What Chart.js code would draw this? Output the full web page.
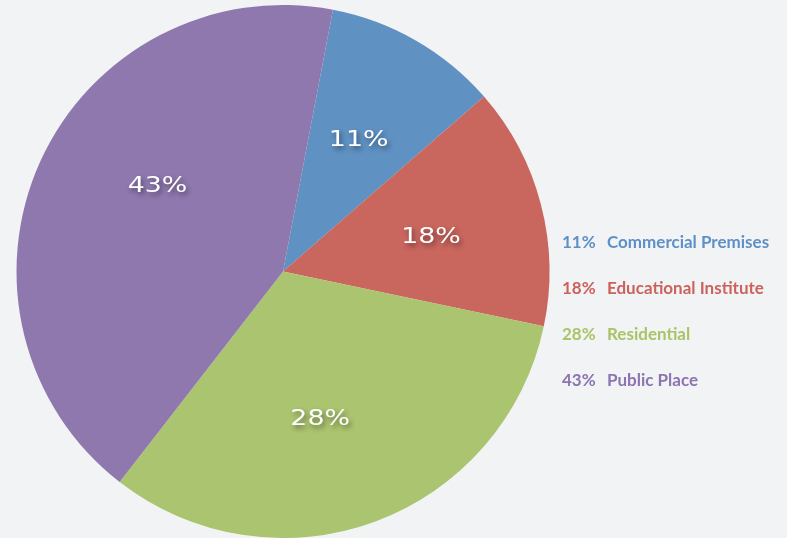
<!DOCTYPE html>
<html>
<head>
<meta charset="utf-8">
<script src="https://cdn.jsdelivr.net/npm/chart.js@4"></script>
<style>
  html, body { margin: 0; padding: 0; background: #F2F3F5; }
  #wrap { width: 787px; height: 538px; position: relative; }
</style>
</head>
<body>
<div id="wrap"><canvas id="c" width="787" height="538"></canvas></div>
<script>
// Categories
const categories = ["Commercial Premises", "Educational Institute", "Residential", "Public Place"];
// Slice sizes as drawn in the picture (percent of circle)
const sliceValues = [10.6, 14.7, 32.2, 42.5];
// Percent labels printed on the chart
const percentLabels = ["11%", "18%", "28%", "43%"];
const colors = ["#5F91C2", "#C9665E", "#ABC46F", "#8E78AE"];
const textColors = ["#5E90C8", "#CB625C", "#A8C467", "#8C74B0"];

const sliceLabelPlugin = {
  id: 'sliceLabels',
  afterDatasetsDraw(chart, args, opts) {
    const ctx = chart.ctx;
    const meta = chart.getDatasetMeta(0);
    meta.data.forEach((arc, i) => {
      const p = arc.getProps(['x', 'y', 'startAngle', 'endAngle', 'outerRadius'], true);
      const mid = (p.startAngle + p.endAngle) / 2 + (opts.angleShift[i] || 0) * Math.PI / 180;
      const r = p.outerRadius * opts.radiusFactor;
      const tx = p.x + Math.cos(mid) * r;
      const ty = p.y + Math.sin(mid) * r;
      ctx.save();
      ctx.translate(tx, ty);
      ctx.scale(1.22, 1);
      ctx.font = '22px "DejaVu Sans"';
      ctx.textAlign = 'center';
      ctx.textBaseline = 'middle';
      ctx.shadowColor = 'rgba(0,0,0,0.45)';
      ctx.shadowBlur = 5;
      ctx.shadowOffsetX = 2;
      ctx.shadowOffsetY = 3;
      ctx.fillStyle = '#FFFFFF';
      ctx.fillText(chart.data.datasets[0].percentLabels[i], 0, 0);
      ctx.restore();
    });
  }
};

const sideLegendPlugin = {
  id: 'sideLegend',
  afterDraw(chart, args, opts) {
    const ctx = chart.ctx;
    ctx.save();
    ctx.font = 'bold 17px Lato';
    ctx.textBaseline = 'middle';
    ctx.textAlign = 'left';
    chart.data.labels.forEach((lab, i) => {
      const y = opts.top + i * opts.step;
      ctx.fillStyle = textColors[i];
      ctx.fillText(chart.data.datasets[0].percentLabels[i], opts.left, y);
      ctx.fillText(lab, opts.left + opts.gap, y);
    });
    ctx.restore();
  }
};

new Chart(document.getElementById('c'), {
  type: 'pie',
  data: {
    labels: categories,
    datasets: [{
      data: sliceValues,
      percentLabels: percentLabels,
      backgroundColor: colors,
      borderWidth: 0
    }]
  },
  options: {
    responsive: false,
    animation: false,
    rotation: 10.8,
    layout: { padding: { left: 16, right: 237, top: 5, bottom: 0 } },
    plugins: {
      legend: { display: false },
      tooltip: { enabled: false },
      sliceLabels: { radiusFactor: 0.57, angleShift: [0, 1.5, 6, 10] },
      sideLegend: { left: 562, top: 243, step: 46, gap: 45 }
    }
  },
  plugins: [sliceLabelPlugin, sideLegendPlugin]
});
</script>
</body>
</html>
